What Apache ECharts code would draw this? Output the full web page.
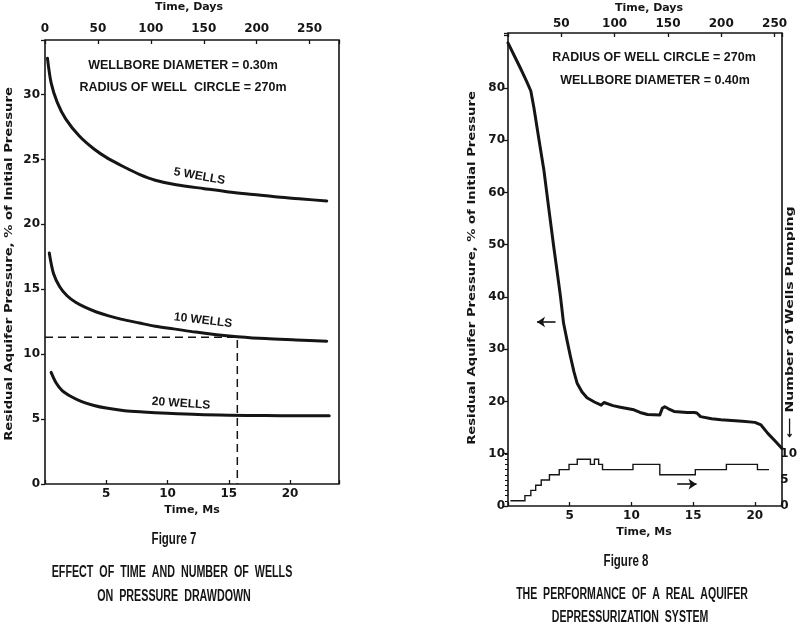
<!DOCTYPE html>
<html><head><meta charset="utf-8">
<script src="https://cdn.jsdelivr.net/npm/echarts@6/dist/echarts.min.js"></script>
<style>html,body{margin:0;padding:0;background:#fff}#c{width:800px;height:629px}</style>
</head><body><div id="c"></div>
<script>
// ---------- Figure 7 data (time in Ms, residual pressure in % of initial) ----------
const fig7Time5  = [0.2,0.5,1.0,1.7,2.8,4.0,5.1,6.5,7.7,9,10.7,13,15,17,19,21,23];
const fig7Res5   = [32.8,30.9,29.4,28.1,26.8,25.8,25.1,24.4,23.85,23.4,23.05,22.75,22.5,22.3,22.1,21.95,21.8];
const fig7Time10 = [0.35,0.7,1.2,1.8,2.5,3.3,4.2,5.2,6.2,7.7,9,10.5,12.3,14,15.7,18,20.5,23];
const fig7Res10  = [17.8,16.2,15.2,14.5,14.0,13.6,13.25,12.95,12.7,12.4,12.15,11.95,11.7,11.5,11.35,11.2,11.1,11.0];
const fig7Time20 = [0.5,0.9,1.4,2.2,3.0,4.0,5.0,6.5,8,10,12.5,15,18,20.5,23.2];
const fig7Res20  = [8.6,7.8,7.2,6.7,6.35,6.05,5.85,5.65,5.55,5.45,5.35,5.3,5.27,5.25,5.25];
const fig7GuideTime = [0,15.7,15.7];
const fig7GuideRes  = [11.3,11.3,0];
const fig7LabelText = ['5 WELLS','10 WELLS','20 WELLS'];
const fig7LabelTime = [12.6,12.9,11.1];
const fig7LabelRes  = [23.7,12.6,6.2];
const fig7LabelTilt = [-10,-7,-4];

// ---------- Figure 8 data ----------
const fig8Time = [0,0.5,1.0,1.5,1.85,2.1,2.5,2.9,3.3,3.7,4.0,4.25,4.5,4.8,5.06,5.35,5.6,6.0,6.4,7.0,7.55,7.7,7.78,8.5,9.1,10.2,10.7,11.3,12.3,12.5,12.7,13.0,13.45,14.5,15.1,15.3,15.6,16.5,17.25,19,20.0,20.5,21.05,21.7,22.2];
const fig8Res  = [88.6,86.2,83.8,81.3,79.4,76.2,70.2,64.4,57,49.7,44.5,40.1,35,31.5,28.6,25.6,23.5,21.8,20.7,19.9,19.3,19.1,19.8,19.2,18.9,18.4,17.9,17.5,17.4,18.7,19.0,18.6,18.1,17.9,17.9,17.8,17.1,16.7,16.5,16.2,16.0,15.5,13.9,12.3,11.0];
const fig8WellsTime  = [0.2,1.4,1.89,2.29,2.75,3.43,4.24,5.05,5.73,6.82,7.15,7.5,7.82,10.34,12.56,15.5,18.07,20.64,21.6];
const fig8WellsCount = [1,2,3,4,5,6,7,8,9,8,9,8,7,8,6,7,8,7,7];
const fig8ArrowLeftTime  = [3.85,2.35]; const fig8ArrowLeftRes = [35.2,35.2];
const fig8ArrowRightTime = [14.0,15.6]; const fig8ArrowRightWells = [4.2,4.2];

// tick label sets
const fig7DayTicks = [0,50,100,150,200,250];
const fig8DayTicks = [50,100,150,200,250];
const fig7MsTicks = [5,10,15,20];
const fig8MsTicks = [5,10,15,20];
const fig7ResTicks = [0,5,10,15,20,25,30];
const fig8ResTicks = [0,10,20,30,40,50,60,70,80];
const fig8WellTicks = [0,5,10];

const SEC_PER_DAY = 86400;
const fig7MaxMs = 24, fig8MaxMs = 22.2;

const INK = '#151515';
const zip = (a,b)=>a.map((v,i)=>[v,b[i]]);
const only = list => v => list.some(t=>Math.abs(t-v)<1e-6) ? String(v) : '';
const lblFont = {color:INK, fontFamily:'DejaVu Sans', fontWeight:'bold', fontSize:12};
const tickStyle = {color:INK, width:1.3};

const chart = echarts.init(document.getElementById('c'), null, {renderer:'canvas'});

function xAx(grid, max, interval, pos, ticks, margin){
  return {gridIndex:grid, type:'value', min:0, max:max, interval:interval, position:pos,
    axisLine:{show:false}, splitLine:{show:false},
    axisTick:{show:true, inside:true, length:4, lineStyle:tickStyle},
    axisLabel:Object.assign({formatter:only(ticks), margin:margin, hideOverlap:false}, lblFont)};
}
function yAx(grid, max, interval, ticks, margin){
  return {gridIndex:grid, type:'value', min:0, max:max, interval:interval, position:'left',
    axisLine:{show:false}, splitLine:{show:false},
    axisTick:{show:true, inside:false, length:4, lineStyle:tickStyle},
    axisLabel:Object.assign({formatter:only(ticks), margin:margin}, lblFont)};
}

const txt = (t,x,y,font,opt={}) => Object.assign({type:'text', x:x, y:y, silent:true,
  style:{text:t, font:font, fill:INK, align:'center', verticalAlign:'middle', textAlign:'center', textVerticalAlign:'middle'}}, opt);

const axFont = 'bold 11px "DejaVu Sans"';
const noteFont = 'bold 12px "Liberation Sans"';
const wellFont = 'bold 12px "Liberation Sans"';
const capFont = 'bold 16px "Liberation Sans"';

const staticGraphics = [
  txt('Time, Days',189,7,axFont), txt('Time, Days',649,8,axFont),
  txt('Time, Ms',192,510,axFont), txt('Time, Ms',644,532,axFont),
  txt('Residual Aquifer Pressure, % of Initial Pressure',9,264,axFont,{rotation:Math.PI/2, scaleX:1.2}),
  txt('Residual Aquifer Pressure, % of Initial Pressure',472,268,axFont,{rotation:Math.PI/2, scaleX:1.2}),
  txt('\u27F5 Number of Wells Pumping',790,322,axFont,{rotation:Math.PI/2, scaleX:1.28}),
  txt('WELLBORE DIAMETER = 0.30m',183,66,noteFont,{scaleX:1.04}), txt('RADIUS OF WELL  CIRCLE = 270m',183,88,noteFont,{scaleX:1.04}),
  txt('RADIUS OF WELL CIRCLE = 270m',654,58,noteFont,{scaleX:1.04}), txt('WELLBORE DIAMETER = 0.40m',655,81,noteFont,{scaleX:1.04}),
  txt('Figure 7',174,540,capFont,{scaleX:0.72}),
  txt('EFFECT  OF  TIME  AND  NUMBER  OF  WELLS',172,573,capFont,{scaleX:0.67}),
  txt('ON  PRESSURE  DRAWDOWN',174,597,capFont,{scaleX:0.67}),
  txt('Figure 8',626,562,capFont,{scaleX:0.72}),
  txt('THE  PERFORMANCE  OF  A  REAL  AQUIFER',632,595,capFont,{scaleX:0.66}),
  txt('DEPRESSURIZATION  SYSTEM',630,618,capFont,{scaleX:0.66})
];

const curve = (name, xi, yi, data, w, extra={}) => Object.assign({name, type:'line', xAxisIndex:xi, yAxisIndex:yi,
  data, showSymbol:false, symbol:'none', silent:true, animation:false,
  lineStyle:{color:INK, width:w, cap:'round', join:'round'}}, extra);

const arrowLine = (ts, vs) => ({silent:true, symbol:['none','arrow'], symbolSize:8, animation:false,
  label:{show:false}, lineStyle:{color:INK, width:1.6, type:'solid'},
  data:[[{coord:[ts[0],vs[0]]},{coord:[ts[1],vs[1]]}]]});

chart.setOption({
  backgroundColor:'#fff',
  animation:false,
  grid:[
    {left:45, top:40, width:294, height:444, show:true, borderColor:INK, borderWidth:1.6},
    {left:508, top:33, width:274, height:473, show:true, borderColor:INK, borderWidth:1.6},
    {left:508, top:454, width:274, height:52, show:false}
  ],
  xAxis:[
    xAx(0, fig7MaxMs, 5, 'bottom', fig7MsTicks, 4),
    xAx(0, fig7MaxMs*1e6/SEC_PER_DAY, 50, 'top', fig7DayTicks, 5),
    xAx(1, fig8MaxMs, 5, 'bottom', fig8MsTicks, 4),
    xAx(1, fig8MaxMs*1e6/SEC_PER_DAY, 50, 'top', fig8DayTicks, 3),
    {gridIndex:2, type:'value', min:0, max:fig8MaxMs, show:false}
  ],
  yAxis:[
    yAx(0, 34.2, 5, fig7ResTicks, 5),
    yAx(1, 90.5, 10, fig8ResTicks, 3),
    {gridIndex:2, type:'value', min:0, max:10, interval:1, position:'right',
      axisLine:{show:false}, splitLine:{show:false},
      axisTick:{show:true, inside:true, length:3, lineStyle:{color:INK, width:1}},
      axisLabel:Object.assign({formatter:only(fig8WellTicks), margin:4}, lblFont)}
  ],
  series:[
    curve('5 wells',0,0,zip(fig7Time5,fig7Res5),3,{smooth:0.3}),
    curve('10 wells',0,0,zip(fig7Time10,fig7Res10),3,{smooth:0.3}),
    curve('20 wells',0,0,zip(fig7Time20,fig7Res20),3,{smooth:0.3}),
    curve('guide',0,0,zip(fig7GuideTime,fig7GuideRes),1.5,{lineStyle:{color:INK,width:1.5,type:[8,5]}}),
    curve('pressure',2,1,zip(fig8Time,fig8Res),3,{markLine:arrowLine(fig8ArrowLeftTime,fig8ArrowLeftRes)}),
    curve('wells',4,2,zip(fig8WellsTime,fig8WellsCount),1.4,{step:'end', lineStyle:{color:INK,width:1.4,join:'miter'}, markLine:arrowLine(fig8ArrowRightTime,fig8ArrowRightWells)})
  ],
  graphic: staticGraphics
});

// curve labels placed at data coordinates
const labelGraphics = fig7LabelText.map((t,i)=>{
  const p = chart.convertToPixel({gridIndex:0}, [fig7LabelTime[i], fig7LabelRes[i]]);
  return txt(t, p[0], p[1], wellFont, {rotation: fig7LabelTilt[i]*Math.PI/180});
});
chart.setOption({graphic: staticGraphics.concat(labelGraphics)});
</script>
</body></html>
